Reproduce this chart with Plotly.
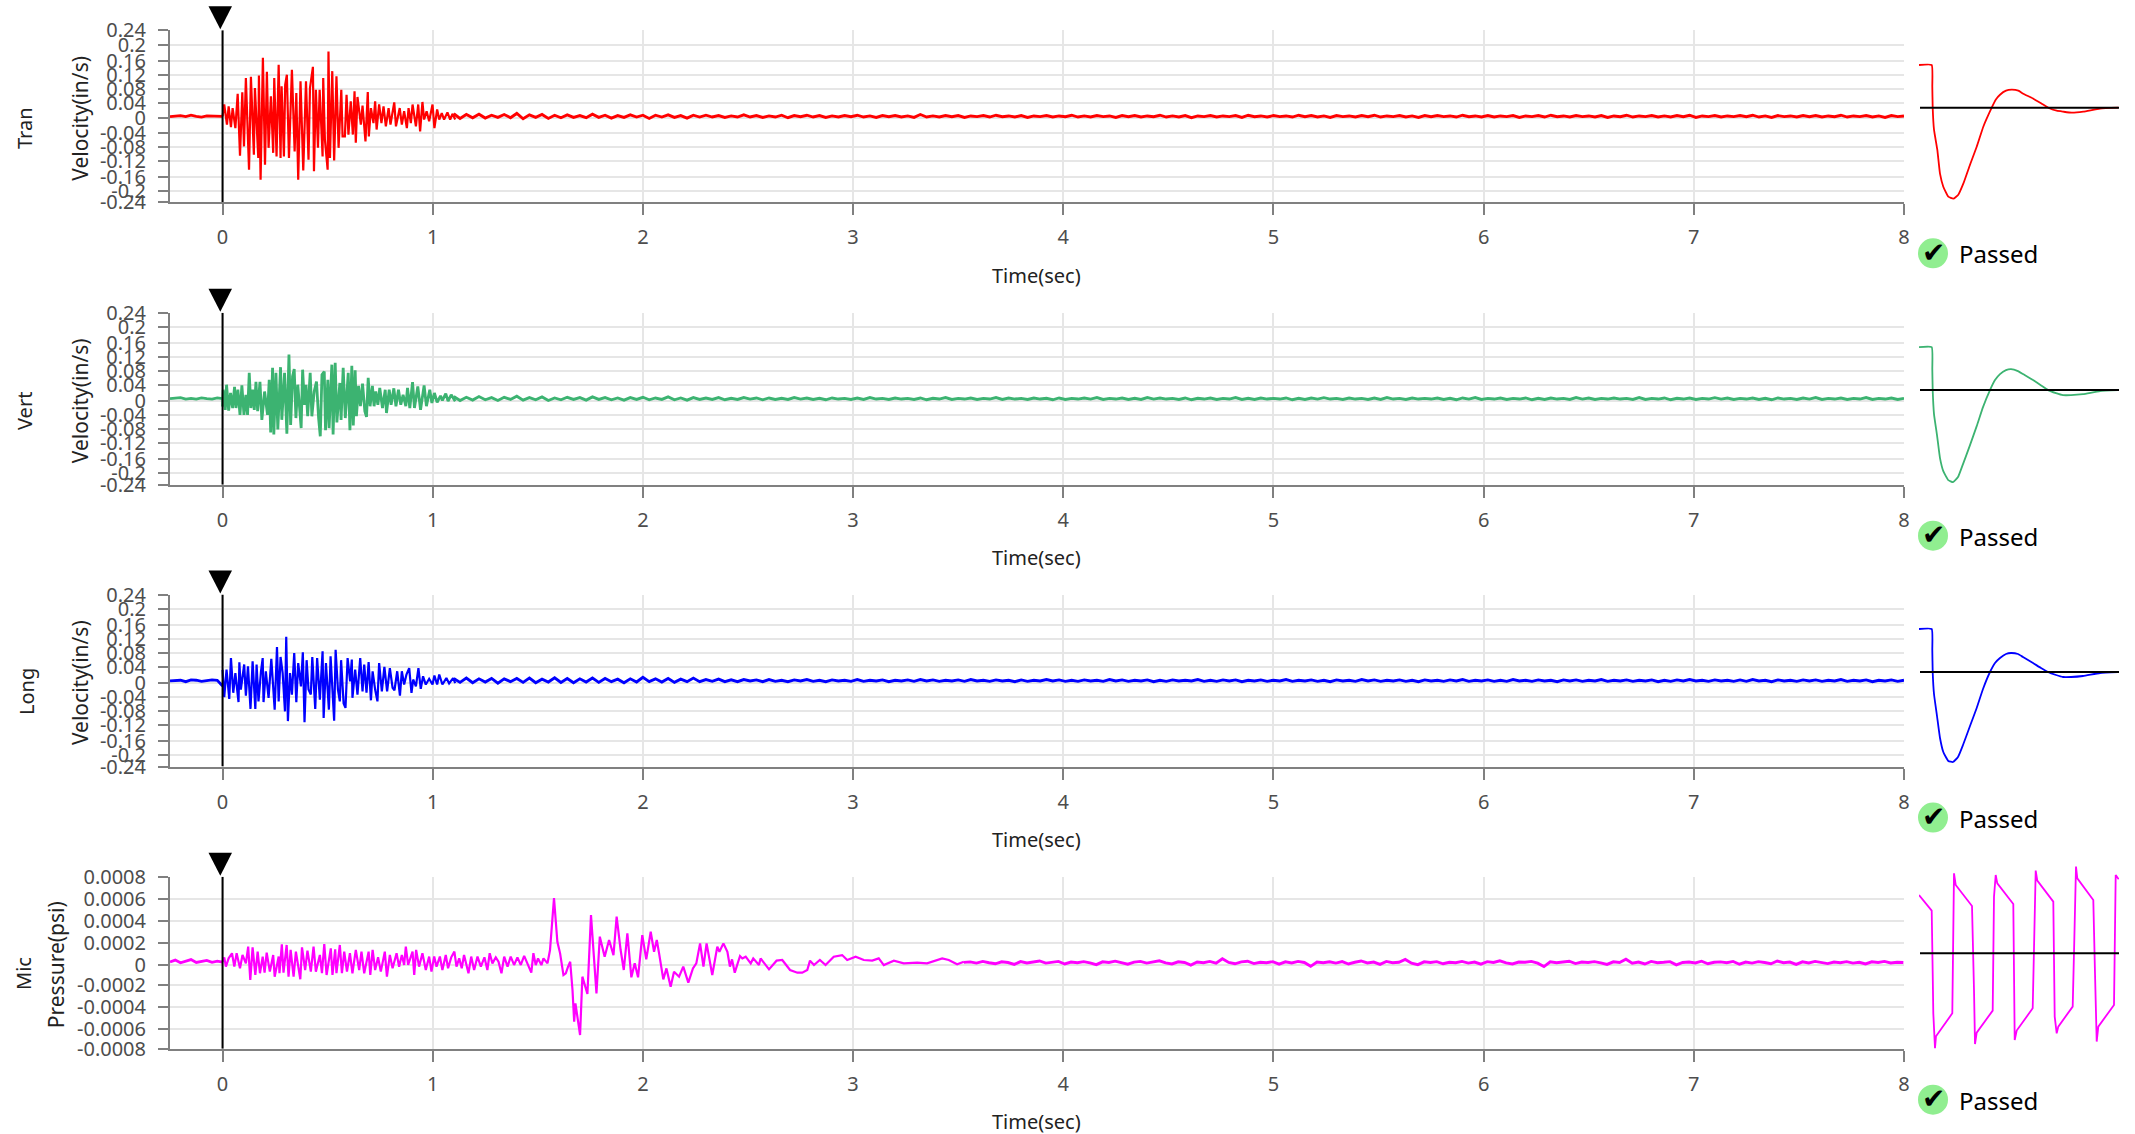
import plotly.graph_objects as go

W, H = 2135, 1134

# ---------- tick definitions ----------
time_ticks = [0, 1, 2, 3, 4, 5, 6, 7, 8]
vel_tick_text = ["0.24", "0.2", "0.16", "0.12", "0.08", "0.04", "0", "-0.04", "-0.08", "-0.12", "-0.16", "-0.2", "-0.24"]
vel_tick_pos = [0.24, 0.1998, 0.1552, 0.1161, 0.077, 0.0371, -0.0056, -0.0466, -0.0848, -0.1239, -0.1694, -0.2084, -0.24]
mic_tick_text = ["0.0008", "0.0006", "0.0004", "0.0002", "0", "-0.0002", "-0.0004", "-0.0006", "-0.0008"]
mic_tick_pos = [0.0008, 0.000595, 0.000391, 0.000186, -0.0000186, -0.000207, -0.000409, -0.000614, -0.0008]

# ---------- sample times of the quiet stretches ----------
pre_ms = [-250, -225, -200, -175, -150, -125, -100, -75, -50, -25, 0]
tail_ms = [1100 + 30 * i for i in range(231)]

# ---------- Tran ----------
tran_pre = [-1, 1, 2, -1, 3, 0, -2, 1, 0, 1, 0]
tran_ms = [0, 8, 21, 29, 40, 48, 61, 72, 83, 94, 102, 111, 126, 135, 149, 154, 170, 173, 181, 192, 202, 211, 219, 230, 241, 246, 257, 267, 276, 281, 292, 298, 306, 316, 330, 343, 351, 360, 371, 384, 397, 409, 416, 430, 435, 444, 454, 462, 476, 479, 487, 500, 504, 511, 522, 531, 542, 552, 565, 571, 582, 590, 599, 610, 620, 628, 634, 642, 658, 666, 680, 691, 696, 706, 718, 726, 733, 745, 756, 766, 777, 790, 799, 817, 825, 843, 853, 864, 877, 885, 896, 904, 920, 931, 940, 951, 959, 971, 983, 999, 1008, 1021, 1031, 1043, 1054, 1070, 1083, 1094, 1107]
tran_milli = [0, 33, -23, 28, -30, 23, -33, 63, -110, 67, -84, 107, -149, 110, -107, 79, -116, 114, -177, 163, -135, 124, -88, 56, -102, 107, -112, 144, -116, 84, -112, 88, 116, -116, 130, -98, 65, -177, 98, -151, 98, -121, 79, 138, -153, 74, -88, 74, -112, 107, -65, -149, 181, -116, 126, -123, 112, -88, 74, -56, -56, 60, -51, 42, -51, 70, -74, 54, -23, 30, -70, 68, -56, 23, -19, 42, -37, 33, -19, 28, -28, 23, -23, 39, -28, 23, -23, 14, -33, 23, -19, 33, -28, 33, -42, 40, -9, 14, -14, 33, -33, 19, -9, 9, -9, 11, -9, 7, -9]
tran_tail = [7, -6, 5, -4, 6, -5, 3, -3, 5, -4, 8, -7, 4, -3, 5, -6, 3, -4, 4, -3,
             2, -4, 6, -3, 3, -5, 2, -3, 4, -2, 3, -6, 3, -2, 4, -3, 2, -5, 3, -2,
             3, -2, 2, -3, 1, -2, 4, -2, 2, -3, 1, -2, 3, -4, 2, -1, 3, -2, 2, -3,
             1, -2, 2, -1, 3, -2, 1, -3, 2, -1, 2, -2, 1, -3, 5, -2, 1, -2, 2, -1,
             2, -3, 1, -1, 2, -2, 3, -1, 1, -2, 2, -3, 1, -1, 2, -2, 1, -1, 3, -2,
             1, -2, 2, -1, 1, -3, 2, -1, 2, -2, 1, -1, 3, -2, 1, -2, 2, -4, 1, -1,
             2, -2, 1, -1, 2, -3, 3, -1, 1, -2, 2, -1, 1, -2, 3, -1, 2, -2, 1, -3,
             2, -1, 1, -2, 2, -1, 3, -2, 1, -1, 2, -2, 1, -3, 2, -1, 2, -1, 1, -2,
             3, -1, 1, -2, 2, -2, 1, -1, 2, -3, 1, -1, 2, -2, 3, -1, 1, -2, 2, -1,
             1, -2, 2, -3, 1, -1, 3, -2, 1, -1, 2, -2, 1, -2, 2, -1, 3, -3, 1, -1,
             2, -2, 1, -1, 2, -1, 3, -2, 1, -3, 2, -1, 1, -2, 2, -1, 2, -2, 1, -1,
             3, -2, 1, -1, 2, -2, 1, -3, 2, -1, 1]

# ---------- Vert ----------
vert_pre = [0, 1, 3, -1, 1, -1, 2, 0, -1, 2, 0]
vert_ms = [0, 3, 13, 19, 29, 38, 48, 57, 64, 73, 83, 92, 102, 111, 119, 127, 135, 143, 151, 159, 167, 178, 187, 200, 214, 222, 229, 238, 244, 254, 263, 276, 282, 295, 306, 316, 324, 333, 341, 349, 358, 374, 381, 390, 397, 405, 417, 425, 436, 447, 457, 465, 473, 484, 490, 501, 507, 520, 526, 536, 544, 558, 564, 574, 584, 598, 606, 615, 622, 631, 637, 647, 656, 666, 677, 685, 693, 702, 713, 721, 729, 739, 748, 761, 774, 780, 793, 802, 815, 825, 837, 848, 859, 872, 880, 891, 904, 913, 929, 942, 959, 970, 986, 996, 1008, 1021, 1037, 1046, 1062, 1073, 1088, 1107]
vert_milli = [-22, 25, -31, 39, -33, 16, -26, 33, -26, 25, -45, 37, -45, 11, -45, 72, -26, 25, -31, 47, -35, 47, -59, 20, -45, 53, -94, 86, -100, 72, -86, 88, -59, 72, -98, 123, -73, 62, 83, -54, 39, -82, 81, -17, 39, -49, 72, -49, 20, 48, -54, -105, 67, 76, -88, 53, -82, 95, -100, 100, -66, 44, -59, 86, -54, 72, -88, 92, -75, 79, -49, 36, -21, 42, -35, -51, 58, -21, 36, -21, 20, -17, 30, -26, 25, -40, 25, -17, 29, -21, 25, -17, 11, -21, 30, -26, 46, -26, 34, -31, 37, -21, 25, -12, 16, -10, 8, -5, 14, -7, 11, -7]
vert_tail = [6, -5, 4, -4, 6, -3, 3, -5, 4, -2, 7, -4, 3, -3, 5, -5, 2, -3, 4, -2,
             3, -4, 5, -2, 3, -3, 2, -4, 3, -2, 4, -3, 2, -2, 5, -3, 2, -4, 3, -2,
             2, -2, 3, -3, 1, -2, 3, -1, 2, -3, 2, -2, 1, -2, 3, -1, 2, -2, 1, -3,
             2, -1, 1, -2, 2, -2, 3, -1, 1, -2, 2, -1, 1, -2, 2, -3, 1, -1, 3, -2,
             1, -1, 2, -2, 1, -1, 3, -2, 2, -1, 1, -2, 2, -1, 1, -3, 2, -2, 1, -1,
             2, -1, 3, -2, 1, -1, 2, -2, 1, -2, 3, -1, 2, -1, 1, -2, 2, -3, 1, -1,
             2, -2, 1, -1, 3, -2, 1, -2, 2, -1, 1, -1, 2, -3, 1, -2, 2, -1, 3, -1,
             1, -2, 2, -1, 1, -2, 2, -2, 3, -1, 1, -2, 2, -1, 1, -1, 2, -2, 1, -3,
             2, -1, 3, -2, 1, -1, 2, -2, 1, -1, 2, -3, 1, -2, 2, -1, 1, -2, 3, -1,
             2, -2, 1, -1, 2, -1, 1, -2, 3, -2, 1, -1, 2, -3, 1, -1, 2, -2, 1, -1,
             3, -1, 2, -2, 1, -1, 2, -2, 1, -3, 2, -1, 1, -2, 2, -1, 3, -2, 1, -1,
             2, -2, 1, -1, 3, -2, 1, -1, 2, -2, 1]

# ---------- Long ----------
long_pre = [-1, 0, 1, -3, 2, 1, -2, 0, 2, 1, -15]
long_ms = [0, 8, 19, 32, 40, 51, 61, 76, 80, 87, 103, 111, 121, 133, 143, 156, 162, 171, 183, 191, 195, 206, 219, 232, 248, 259, 267, 276, 286, 297, 303, 311, 321, 330, 341, 351, 360, 373, 382, 390, 400, 409, 420, 427, 441, 450, 463, 476, 481, 492, 506, 514, 531, 538, 549, 558, 564, 576, 585, 595, 607, 615, 618, 631, 642, 655, 666, 674, 685, 695, 706, 714, 726, 737, 745, 758, 770, 783, 796, 809, 818, 831, 844, 853, 864, 875, 888, 899, 907, 920, 932, 943, 954, 967, 983, 999, 1008, 1021, 1031, 1046, 1065, 1078, 1097, 1107]
long_milli = [30, -46, 31, -51, 63, -34, 21, -60, 51, -25, 45, -42, 40, -79, 54, -79, 45, -58, 26, 63, -60, 26, -48, 61, -81, 94, -58, 66, 21, -86, 122, -113, 21, -39, 77, -60, 49, -16, 79, -116, 57, -25, -39, 66, -79, 63, -53, 82, -104, 49, -81, 68, -112, 86, -25, -58, 57, -64, -76, 63, -2, 59, -48, 31, -39, 63, -30, 45, -34, 52, -55, 26, -25, -58, 49, -30, 38, -30, 35, -20, -27, 26, -42, 26, -11, 17, 35, -34, 3, -16, 35, -23, 12, -11, 5, -11, 14, -11, 17, -11, 7, -8, 7, -7]
long_tail = [6, -5, 7, -6, 5, -4, 6, -7, 5, -3, 6, -5, 7, -6, 4, -4, 8, -5, 6, -6,
             5, -4, 7, -5, 6, -3, 4, -6, 5, -4, 9, -3, 5, -4, 6, -5, 4, -3, 7, -3,
             3, -2, 4, -3, 2, -3, 3, -1, 2, -3, 3, -2, 1, -3, 2, -1, 3, -2, 1, -3,
             2, -1, 1, -2, 3, -2, 1, -1, 2, -3, 1, -1, 2, -2, 3, -1, 2, -2, 1, -1,
             2, -2, 3, -1, 1, -2, 2, -1, 1, -3, 2, -2, 1, -1, 3, -1, 2, -2, 1, -2,
             2, -1, 1, -2, 3, -1, 2, -2, 1, -1, 2, -3, 1, -2, 2, -1, 1, -1, 3, -2,
             1, -2, 2, -1, 2, -3, 1, -1, 2, -2, 1, -1, 3, -2, 1, -1, 2, -2, 1, -3,
             2, -1, 1, -2, 3, -1, 2, -2, 1, -1, 2, -2, 1, -3, 2, -1, 1, -2, 2, -1,
             3, -2, 1, -1, 2, -2, 1, -2, 3, -1, 1, -2, 2, -1, 1, -3, 2, -1, 2, -2,
             1, -1, 3, -2, 1, -1, 2, -2, 1, -1, 2, -3, 1, -2, 2, -1, 3, -1, 1, -2,
             2, -1, 1, -2, 2, -2, 3, -1, 1, -3, 2, -1, 1, -2, 2, -1, 2, -2, 1, -1,
             3, -2, 1, -1, 2, -3, 1, -1, 2, -2, 1]

# ---------- Mic ----------
mic_pre = [6, 24, -1, 16, 29, 2, 12, 22, 4, 14, 6]
mic_ms = [0, 8, 16, 29, 45, 56, 67, 83, 95, 111, 122, 132, 143, 156, 167, 178, 191, 200, 210, 225, 241, 248, 267, 271, 282, 290, 305, 314, 324, 338, 349, 370, 378, 393, 404, 420, 433, 444, 463, 473, 484, 495, 515, 523, 536, 542, 558, 568, 579, 592, 606, 618, 634, 650, 661, 674, 695, 703, 714, 726, 740, 753, 772, 782, 796, 809, 828, 840, 853, 864, 872, 883, 904, 912, 921, 935, 951, 967, 983, 994, 1007, 1018, 1034, 1046, 1062, 1073, 1088, 1103, 1113, 1126, 1138, 1149, 1170, 1183, 1197, 1213, 1229, 1246, 1260, 1271, 1284, 1300, 1313, 1327, 1340, 1356, 1371, 1387, 1403, 1419, 1435, 1450, 1469, 1479, 1490, 1501, 1517, 1527, 1546, 1558, 1577, 1593, 1606, 1622, 1633, 1644, 1654, 1665, 1673, 1679, 1701, 1712, 1728, 1736, 1753, 1768, 1779, 1795, 1807, 1818, 1839, 1860, 1875, 1894, 1909, 1926, 1945, 1961, 1977, 1997, 2016, 2037, 2053, 2066, 2077, 2097, 2112, 2132, 2148, 2172, 2192, 2216, 2238, 2254, 2272, 2288, 2303, 2330, 2354, 2364, 2383, 2402, 2414, 2424, 2437, 2462, 2473, 2489, 2513, 2525, 2552, 2560, 2600, 2636, 2663, 2700, 2735, 2758, 2782, 2795, 2814, 2842, 2869, 2893, 2908, 2948, 2972, 3012, 3051, 3091, 3122, 3146, 3194, 3241, 3305, 3352, 3424, 3455, 3495, 3527]
mic_micro = [10, 50, -37, 41, 88, -37, 88, -52, 72, -6, 150, -160, 143, -114, 103, -98, 57, -92, 94, -83, 72, -130, 57, -98, 171, -92, 165, -130, 119, -130, 103, -154, 143, -68, 112, -83, 150, -83, 72, -98, 174, -114, 134, -114, 125, -98, 165, -98, 103, -83, 88, -98, 119, -68, 103, -98, 103, -114, 119, -68, 50, -83, 103, -130, 72, -52, 88, -37, 72, -21, 150, -21, 103, -114, 119, -37, 88, -68, 57, -83, 57, -37, 57, -68, 72, -52, 50, 103, -37, 41, -52, 72, -98, 57, -68, 57, -37, 50, -68, 88, -6, 50, 10, -98, 57, -37, 57, -21, 50, -21, 63, -6, -92, 88, -22, 40, -22, 40, -6, 118, 600, 195, 87, -115, -99, -37, 9, -254, -549, -378, -673, -130, -223, -291, 443, 56, -285, 242, 133, 56, 211, 71, 428, 118, -68, 273, -136, -6, -136, 257, 31, 288, 102, 211, 87, -155, -53, -223, -84, -130, -37, -186, -53, -6, 180, -37, 180, -115, 149, 102, 180, 102, -37, 31, -93, 62, 40, 56, -6, 40, -22, 40, -62, 19, 25, -68, -93, -93, -68, 19, -22, 25, -22, 25, 56, 71, 25, 56, 25, 19, 40, -22, 19, -6, 0, -6, 40, 25, -15, 9]
mic_tail_ms = [3527 + 30 * i for i in range(150)]
mic_tail = [3, 8, -4, 12, 0, -10, 8, 2, -16, 10, -2, 6, 16, -4, 4, 12, -12, 6, 0, 10,
            -2, -18, 8, 2, 14, 0, -14, 6, 12, -4, 4, 18, -2, -12, 8, 2, -22, 6, 0, 12,
            -4, 36, 2, -10, 8, 14, -8, 4, 0, 10, -14, 8, -2, 12, 2, -34, 6, 0, 8, -4,
            10, -12, 4, 16, -2, 6, -16, 12, 0, 4, 30, -4, -18, 8, 2, 10, -10, 4, 0, 12,
            -4, 6, -14, 10, 2, 18, -2, -12, 6, 4, 12, -4, -36, 8, 0, 4, 14, -8, 6, 2,
            10, -2, -16, 8, 2, 32, -4, 6, -12, 12, 0, 4, 10, -20, 2, 6, -2, 14, -10, 4,
            8, 0, 12, -14, 6, -4, 10, 2, -10, 16, 0, 6, -16, 8, -2, 12, 2, -8, 6, 0,
            10, -4, 4, -12, 8, 2, 12, -2, 4, 2]

# ---------- small response panels (relative scale) ----------
tran_resp_t = [0, 12.7, 13.3, 13.7, 15, 18.3, 21, 24.3, 29.3, 34.3, 39.3, 44.3, 51, 57.7, 64.3, 72.7, 76.7, 81, 87, 92.7, 99.3, 104.3, 114.3, 122.7, 129.3, 137.7, 144.3, 152.7, 164.3, 181, 199.3]
tran_resp = [42.7, 42.7, 21, 0, -22, -42, -66, -79, -89, -91, -87, -76, -57, -39, -19, 0, 8, 13, 17, 18, 17, 14, 9, 4, 0, -3, -4, -5, -4, -1, 0]
vert_resp_t = [0, 12.7, 13.3, 13.7, 15, 18, 21, 24.3, 29.3, 34, 39, 44, 51, 57.7, 64, 71, 76, 81, 87, 92, 99, 104, 114, 123, 129, 137, 144, 152, 164, 181, 199]
vert_resp = [43, 43, 21, 0, -24, -45, -68, -81, -90, -92, -87, -74, -55, -36, -17, 0, 10, 16, 20, 21, 19, 16, 10, 4, 0, -3, -5, -5, -4, -1, 0]
long_resp_t = [0, 12.7, 13.3, 13.7, 15, 18, 21, 24.3, 29.3, 34, 39, 44, 51, 57.7, 64, 71, 76, 81, 87, 92, 99, 104, 114, 122, 129, 137, 144, 152, 164, 181, 199]
long_resp = [43, 43, 22, 0, -22, -44, -66, -80, -89, -90, -85, -73, -54, -36, -17, 0, 9, 14, 18, 19, 18, 15, 9, 4, 0, -3, -5, -5, -4, -1, 0]
mic_resp_t = [0, 12.7, 13.7, 14.3, 16, 17, 33.3, 35, 36.7, 53, 55, 56, 57.7, 73.7, 75, 76.7, 78.3, 94.3, 95.7, 97.7, 113.7, 115.3, 116.7, 118.3, 134.3, 135.7, 137.7, 139.3, 153.7, 155.3, 157, 158.3, 174.3, 176, 177.7, 179.3, 195, 196.7, 199.7]
mic_resp = [58.3, 42.7, -20, -60, -95, -83, -60, 80, 68.3, 47.3, -36.7, -90.7, -79.3, -57.3, 56.7, 78.3, 70, 49.3, -86.7, -77.3, -55, 30, 82.7, 72.7, 51.7, -63.3, -80, -73.3, -53.3, 13.3, 86.7, 75, 53.3, -20, -88.3, -73.3, -51.7, 78.3, 74]

row_names = ["Tran", "Vert", "Long", "Mic"]
row_units = ["Velocity(in/s)", "Velocity(in/s)", "Velocity(in/s)", "Pressure(psi)"]
row_colors = ["#ff0000", "#3cb371", "#0000ff", "#ff00ff"]
status_text = "Passed"

# ---------- layout constants (pixels) ----------
LEFT, RIGHT = 170, 1904
TOPS = [30.3, 312.7, 594.6, 876.7]
PH = 172
P_LEFT, P_RIGHT = 1919, 2119
P_ABOVE, P_BELOW = 13, 180
ZERO_OFF = [77.4, 77.4, 77.4, 76.6]
NAME_X = [25, 25, 27, 24]
NAME_Y = [97.7, 98.3, 97.4, 97.3]
UNIT_X = [80, 80, 80, 56]
BURST_W = [2.2, 2.8, 2.2, 2.2]


def fx(px):
    return px / W


def fy(py):
    return 1 - py / H


fig = go.Figure()
layout = {}
shapes = []
annotations = []
tick_font = dict(family="Noto Sans", size=20, color="#4d4d4d")
title_color = "#222222"

series = [
    (tran_pre, tran_ms, tran_milli, tail_ms, tran_tail, tran_resp_t, tran_resp, 1000.0),
    (vert_pre, vert_ms, vert_milli, tail_ms, vert_tail, vert_resp_t, vert_resp, 1000.0),
    (long_pre, long_ms, long_milli, tail_ms, long_tail, long_resp_t, long_resp, 1000.0),
    (mic_pre, mic_ms, mic_micro, mic_tail_ms, mic_tail, mic_resp_t, mic_resp, 1e6),
]


def note(text, x, y, size=20, col=title_color, angle=0, xanchor="center", family="Noto Sans"):
    annotations.append(dict(text=text, xref="paper", yref="paper", x=fx(x), y=fy(y), showarrow=False,
                            xanchor=xanchor, yanchor="middle", textangle=angle,
                            font=dict(family=family, size=size, color=col)))


for r in range(4):
    T = TOPS[r]
    pre_v, ms, vals, tms, tvals, rt, rv, div = series[r]
    color = row_colors[r]
    m, p = 2 * r + 1, 2 * r + 2
    ma = "" if m == 1 else str(m)
    xa, ya = "x" + ma, "y" + ma
    xp, yp = "x" + str(p), "y" + str(p)
    ymax = 0.0008 if r == 3 else 0.24
    tvalsy = mic_tick_pos if r == 3 else vel_tick_pos
    ttexty = mic_tick_text if r == 3 else vel_tick_text

    common = dict(mode="lines", hoverinfo="skip", showlegend=False)
    fig.add_trace(go.Scatter(x=[v / 1000 for v in pre_ms], y=[v / div for v in pre_v], xaxis=xa, yaxis=ya,
                             line=dict(color=color, width=2.8), **common))
    fig.add_trace(go.Scatter(x=[v / 1000 for v in ms], y=[v / div for v in vals], xaxis=xa, yaxis=ya,
                             line=dict(color=color, width=BURST_W[r]), **common))
    fig.add_trace(go.Scatter(x=[v / 1000 for v in tms], y=[v / div for v in tvals], xaxis=xa, yaxis=ya,
                             line=dict(color=color, width=2.9), **common))
    fig.add_trace(go.Scatter(x=[0, 0], y=[-ymax, ymax], xaxis=xa, yaxis=ya,
                             line=dict(color="#000000", width=2), **common))

    # small panel
    zero = ZERO_OFF[r]
    fig.add_trace(go.Scatter(x=rt, y=rv, xaxis=xp, yaxis=yp,
                             line=dict(color=color, width=1.8, shape="linear" if r == 3 else "spline", smoothing=0.4), **common))
    fig.add_trace(go.Scatter(x=[1, 200], y=[0, 0], xaxis=xp, yaxis=yp, line=dict(color="#000000", width=2), **common))

    axis_color = "#808080"
    grid_color = "#e6e6e6"
    layout["xaxis" + ma] = dict(
        domain=[fx(LEFT), fx(RIGHT)], anchor=ya, range=[-0.25, 8], tickvals=time_ticks,
        ticktext=[str(v) for v in time_ticks], showline=True, linecolor=axis_color, linewidth=2,
        ticks="outside", ticklen=11, tickwidth=2, tickcolor=axis_color, showgrid=True,
        gridcolor=grid_color, gridwidth=2, zeroline=False, tickfont=tick_font, ticklabelstandoff=5,
    )
    layout["yaxis" + ma] = dict(
        domain=[fy(T + PH), fy(T)], anchor=xa, range=[-ymax, ymax], tickvals=tvalsy, ticktext=ttexty,
        showline=True, linecolor=axis_color, linewidth=2, ticks="outside", ticklen=10, tickwidth=2,
        tickcolor=axis_color, showgrid=True, gridcolor=grid_color, gridwidth=2, zeroline=False,
        tickfont=tick_font, ticklabelstandoff=8,
    )
    layout["xaxis" + str(p)] = dict(domain=[fx(P_LEFT), fx(P_RIGHT)], anchor=yp, range=[0, 200], visible=False)
    layout["yaxis" + str(p)] = dict(domain=[fy(T + P_BELOW), fy(T - P_ABOVE)], anchor=xp,
                                    range=[zero - P_BELOW, zero + P_ABOVE], visible=False)

    # trigger triangle
    shapes.append(dict(type="path", xref="paper", yref="paper", fillcolor="#000000", line=dict(width=0),
                       path="M %f %f L %f %f L %f %f Z" % (fx(208.5), fy(T - 24), fx(232), fy(T - 24), fx(220.3), fy(T - 1))))
    # pass badge
    shapes.append(dict(type="circle", xref="paper", yref="paper", fillcolor="#90ee90", line=dict(width=0),
                       x0=fx(1918), x1=fx(1948), y0=fy(T + 238), y1=fy(T + 208)))

    note(row_names[r], NAME_X[r] - 1, T + NAME_Y[r], size=20, angle=-90)
    note(row_units[r], UNIT_X[r], T + 88.5, size=21, angle=-90)
    note("Time(sec)", 1036, T + 245)
    note("✔", 1933, T + 222, size=28, col="#000000", family="DejaVu Sans")
    note(status_text, 1956.5, T + 223.5, size=24, col="#000000", xanchor="left")

fig.update_layout(
    width=W, height=H, margin=dict(l=0, r=0, t=0, b=0, pad=0, autoexpand=False), paper_bgcolor="#ffffff", plot_bgcolor="#ffffff",
    showlegend=False, shapes=shapes, annotations=annotations, **layout,
)

fig.write_html("out.html", config={"displayModeBar": False},
               post_script="document.body.style.margin='0';document.body.style.overflow='hidden';")
